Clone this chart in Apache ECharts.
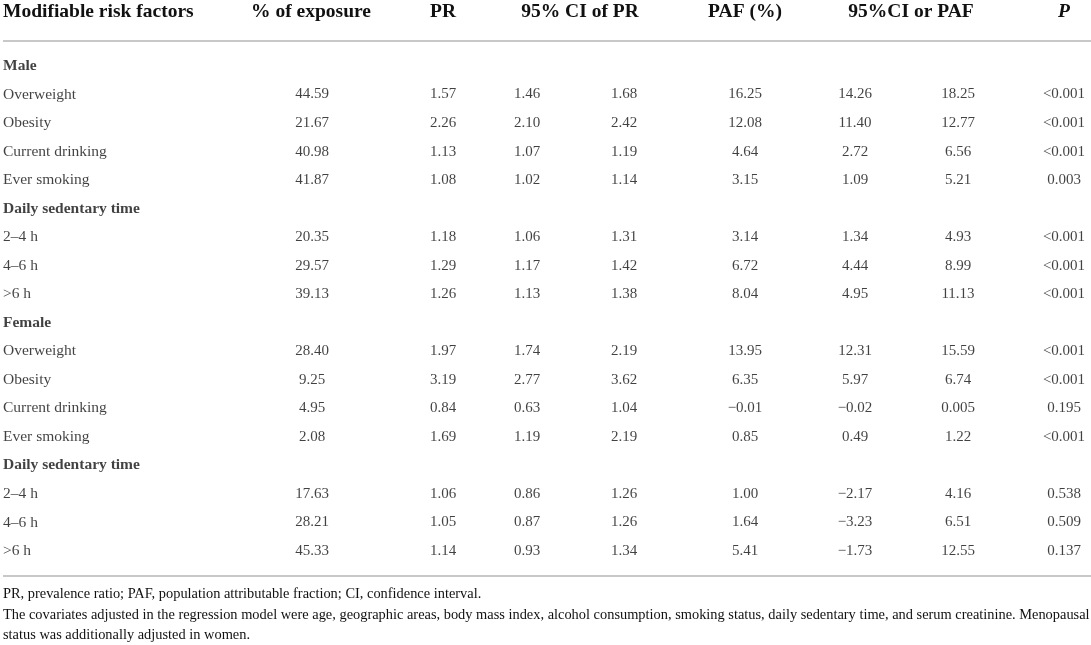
<!DOCTYPE html>
<html>
<head>
<meta charset="utf-8">
<script src="https://cdn.jsdelivr.net/npm/echarts@6/dist/echarts.min.js"></script>
<style>
  html, body { margin: 0; padding: 0; background: #fff; }
  #table { width: 1091px; height: 645px; }
</style>
</head>
<body>
<div id="table"></div>
<script>
// 表格数据
var headers = ['Modifiable risk factors', '% of exposure', 'PR', '95% CI of PR', 'PAF (%)', '95%CI or PAF', 'P'];
var rows = ['Male', 'Overweight', 'Obesity', 'Current drinking', 'Ever smoking', 'Daily sedentary time', '2–4 h', '4–6 h', '>6 h',
            'Female', 'Overweight', 'Obesity', 'Current drinking', 'Ever smoking', 'Daily sedentary time', '2–4 h', '4–6 h', '>6 h'];
var sectionRows = ['Male', 'Female', 'Daily sedentary time'];
var exposure = [null, '44.59', '21.67', '40.98', '41.87', null, '20.35', '29.57', '39.13', null, '28.40', '9.25', '4.95', '2.08', null, '17.63', '28.21', '45.33'];
var pr       = [null, '1.57', '2.26', '1.13', '1.08', null, '1.18', '1.29', '1.26', null, '1.97', '3.19', '0.84', '1.69', null, '1.06', '1.05', '1.14'];
var prLow    = [null, '1.46', '2.10', '1.07', '1.02', null, '1.06', '1.17', '1.13', null, '1.74', '2.77', '0.63', '1.19', null, '0.86', '0.87', '0.93'];
var prHigh   = [null, '1.68', '2.42', '1.19', '1.14', null, '1.31', '1.42', '1.38', null, '2.19', '3.62', '1.04', '2.19', null, '1.26', '1.26', '1.34'];
var paf      = [null, '16.25', '12.08', '4.64', '3.15', null, '3.14', '6.72', '8.04', null, '13.95', '6.35', '−0.01', '0.85', null, '1.00', '1.64', '5.41'];
var pafLow   = [null, '14.26', '11.40', '2.72', '1.09', null, '1.34', '4.44', '4.95', null, '12.31', '5.97', '−0.02', '0.49', null, '−2.17', '−3.23', '−1.73'];
var pafHigh  = [null, '18.25', '12.77', '6.56', '5.21', null, '4.93', '8.99', '11.13', null, '15.59', '6.74', '0.005', '1.22', null, '4.16', '6.51', '12.55'];
var pValue   = [null, '<0.001', '<0.001', '<0.001', '0.003', null, '<0.001', '<0.001', '<0.001', null, '<0.001', '<0.001', '0.195', '<0.001', null, '0.538', '0.509', '0.137'];
var footnotes = [
  'PR, prevalence ratio; PAF, population attributable fraction; CI, confidence interval.',
  'The covariates adjusted in the regression model were age, geographic areas, body mass index, alcohol consumption, smoking status, daily sedentary time, and serum creatinine. Menopausal',
  'status was additionally adjusted in women.'
];

var FONT = '"Liberation Serif", "DejaVu Serif", serif';
var TEXT = '#111111';
var RULE = '#c8c8c8';

// 列的中心位置 (x 轴坐标)
var columns = [
  { values: exposure, x: 312 },
  { values: pr, x: 443 },
  { values: prLow, x: 527 },
  { values: prHigh, x: 624 },
  { values: paf, x: 745 },
  { values: pafLow, x: 855 },
  { values: pafHigh, x: 958 },
  { values: pValue, x: 1064 }
];
var headerX = [3, 311, 443, 580, 745, 911, 1064];

var myChart = echarts.init(document.getElementById('table'), null, { renderer: 'canvas' });

function cellSeries(data, align, size) {
  return {
    type: 'scatter',
    symbolSize: 0,
    silent: true,
    data: data,
    label: {
      show: true,
      position: 'inside',
      align: align,
      verticalAlign: 'middle',
      fontFamily: FONT,
      fontSize: size,
      color: TEXT,
      formatter: function (p) { return p.value[2]; }
    }
  };
}

var series = [];
// 第一列：行名
series.push(cellSeries(rows.map(function (name, i) {
  var bold = sectionRows.indexOf(name) >= 0;
  return { value: [3, i, name], label: { fontWeight: bold ? 'bold' : 'normal' } };
}), 'left', 15.5));
columns.forEach(function (col) {
  var data = [];
  col.values.forEach(function (v, i) {
    if (v !== null) data.push({ value: [col.x, i, v] });
  });
  series.push(cellSeries(data, 'center', 15));
});

var graphic = [
  { type: 'line', shape: { x1: 3, y1: 41, x2: 1091, y2: 41 }, style: { stroke: RULE, lineWidth: 2 } },
  { type: 'line', shape: { x1: 3, y1: 576, x2: 1091, y2: 576 }, style: { stroke: RULE, lineWidth: 2 } }
];
headers.forEach(function (h, i) {
  graphic.push({
    type: 'text', x: headerX[i], y: 12,
    style: {
      text: h, fill: TEXT, font: (i === 6 ? 'italic ' : '') + 'bold 19.5px ' + FONT,
      align: i === 0 ? 'left' : 'center', verticalAlign: 'middle'
    }
  });
});
footnotes.forEach(function (t, i) {
  graphic.push({
    type: 'text', x: 3, y: 594.5 + i * 20.5,
    style: { text: t, fill: TEXT, font: '14.4px ' + FONT, align: 'left', verticalAlign: 'middle' }
  });
});

option = {
  animation: false,
  grid: { left: 0, right: 0, top: 66, bottom: 94 },
  xAxis: { type: 'value', min: 0, max: 1091, show: false },
  yAxis: { type: 'value', min: 0, max: rows.length - 1, inverse: true, show: false },
  series: series,
  graphic: graphic
};
myChart.setOption(option);
</script>
</body>
</html>
